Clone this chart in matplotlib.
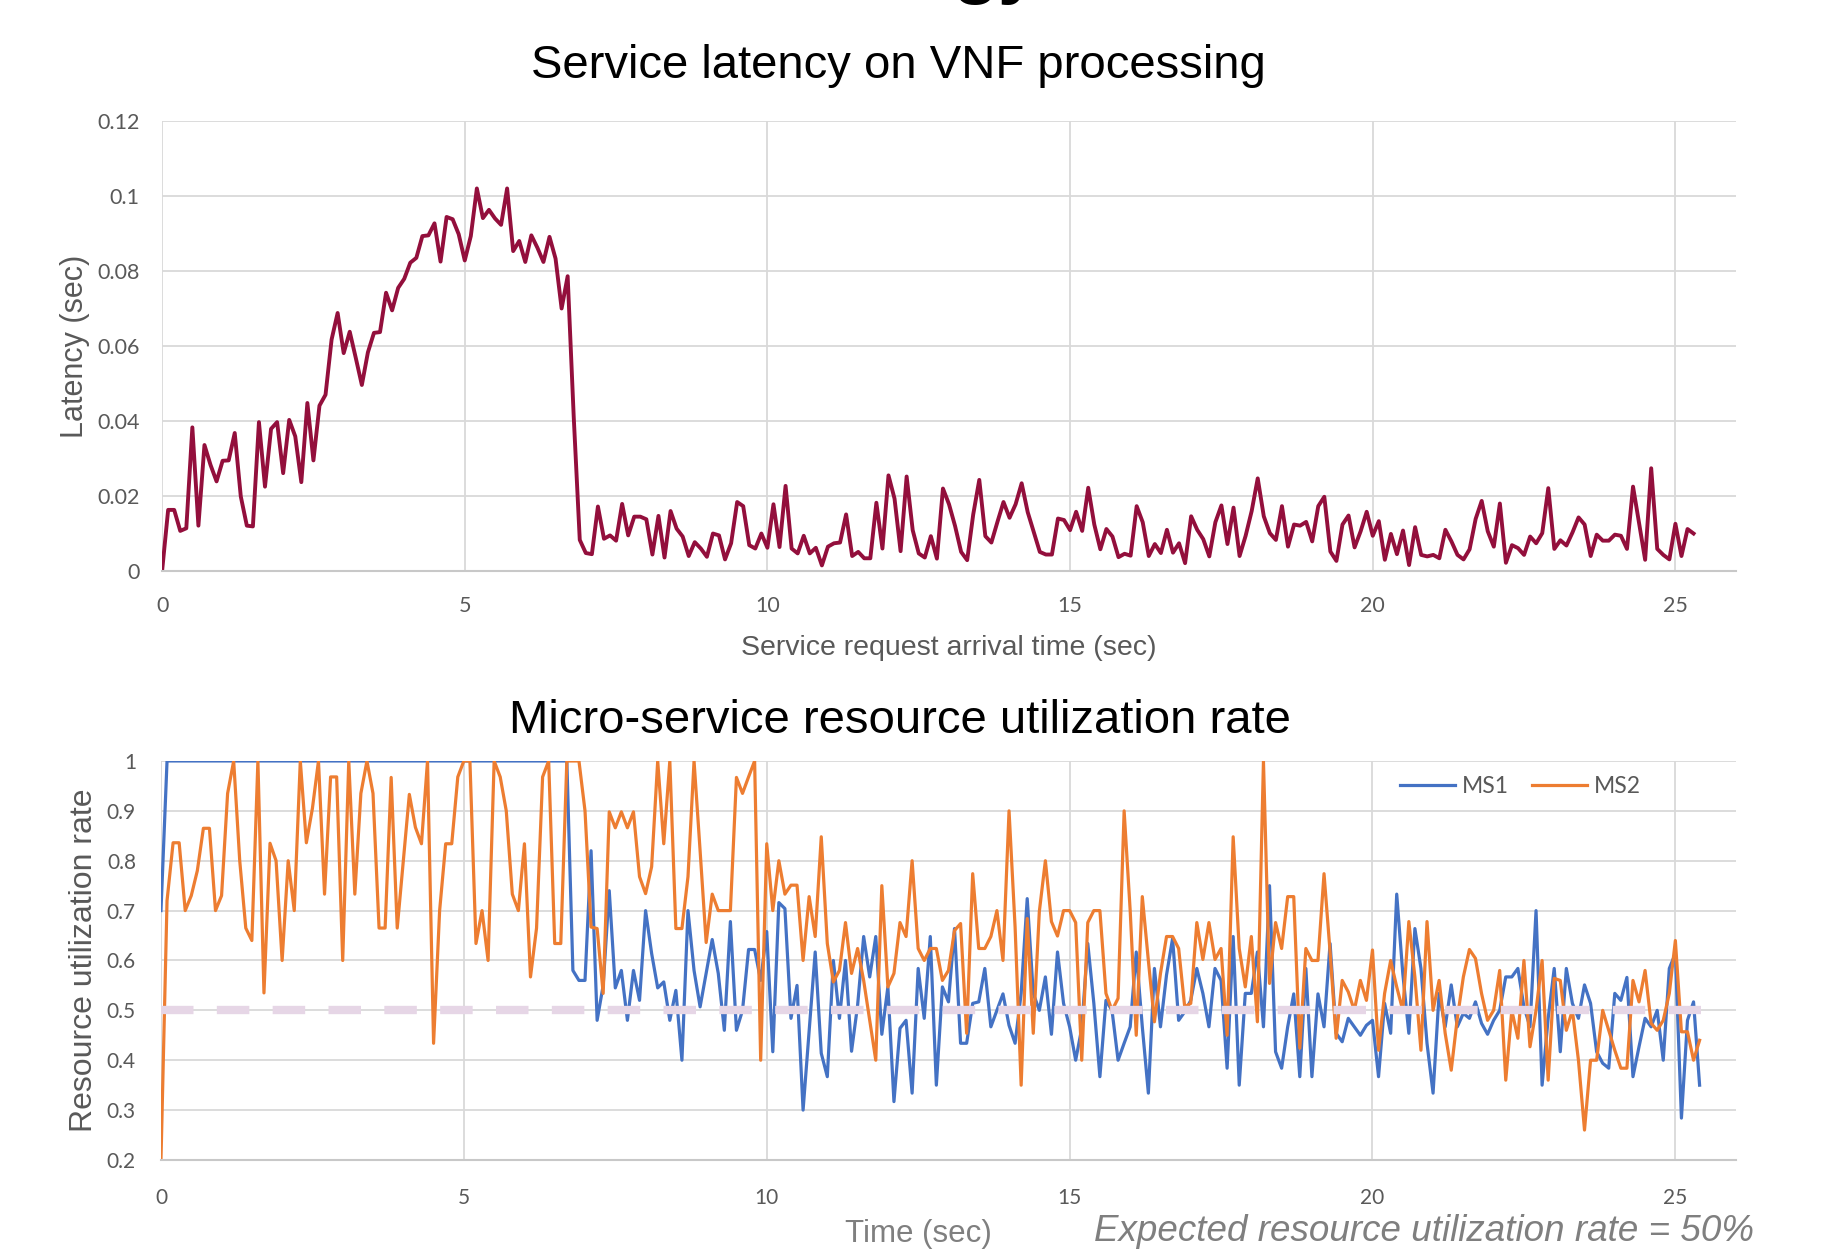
import numpy as np
import matplotlib
matplotlib.use("Agg")
import matplotlib.pyplot as plt
from matplotlib.ticker import FuncFormatter

latency = [
    0.0, 0.0163, 0.0163, 0.0107, 0.0114, 0.0383, 0.0121, 0.0336, 0.0283, 0.0239,
    0.0294, 0.0295, 0.0368, 0.0199, 0.0121, 0.0119, 0.0397, 0.0225, 0.0379, 0.0397,
    0.0261, 0.0403, 0.0359, 0.0237, 0.0448, 0.0295, 0.0441, 0.047, 0.0617, 0.0688,
    0.0581, 0.0638, 0.0568, 0.0496, 0.0583, 0.0635, 0.0637, 0.0742, 0.0695, 0.0755,
    0.0779, 0.0822, 0.0835, 0.0893, 0.0895, 0.0927, 0.0825, 0.0944, 0.0938, 0.0898,
    0.0828, 0.0893, 0.102, 0.0941, 0.0963, 0.094, 0.0923, 0.102, 0.0853, 0.088,
    0.0824, 0.0895, 0.0862, 0.0824, 0.0891, 0.0833, 0.070, 0.0786, 0.0412, 0.0083,
    0.0048, 0.0045, 0.0172, 0.0086, 0.0095, 0.0081, 0.0179, 0.0095, 0.0145, 0.0145,
    0.0138, 0.0044, 0.0147, 0.0036, 0.016, 0.0113, 0.0092, 0.004, 0.0077, 0.006,
    0.0038, 0.01, 0.0095, 0.0031, 0.0074, 0.0184, 0.0173, 0.0069, 0.006, 0.01,
    0.0062, 0.0178, 0.0064, 0.0227, 0.006, 0.0047, 0.0094, 0.0047, 0.0062, 0.0015,
    0.0065, 0.0074, 0.0076, 0.0151, 0.004, 0.0051, 0.0034, 0.0034, 0.0182, 0.006,
    0.0255, 0.0193, 0.0053, 0.0252, 0.0109, 0.0047, 0.0036, 0.0093, 0.0033, 0.022,
    0.0178, 0.012, 0.0051, 0.0029, 0.0151, 0.0243, 0.0093, 0.0076, 0.0131, 0.0184,
    0.0142, 0.0178, 0.0234, 0.0157, 0.0104, 0.0051, 0.0044, 0.0044, 0.014, 0.0136,
    0.0109, 0.0158, 0.0107, 0.0222, 0.0124, 0.0058, 0.0112, 0.0092, 0.0037, 0.0046,
    0.0041, 0.0173, 0.013, 0.004, 0.0072, 0.0048, 0.011, 0.0049, 0.0074, 0.0021,
    0.0146, 0.011, 0.0085, 0.0039, 0.013, 0.0175, 0.0072, 0.0169, 0.004, 0.0094,
    0.016, 0.0247, 0.0146, 0.0101, 0.0083, 0.0173, 0.0065, 0.0124, 0.0121, 0.0131,
    0.0079, 0.0173, 0.0198, 0.0052, 0.0027, 0.0124, 0.0148, 0.0063, 0.0106, 0.0158,
    0.0094, 0.0133, 0.003, 0.0099, 0.0045, 0.0108, 0.0016, 0.0117, 0.0043, 0.0039,
    0.0043, 0.0034, 0.011, 0.0079, 0.0043, 0.0031, 0.0058, 0.0139, 0.0187, 0.0106,
    0.0065, 0.018, 0.0022, 0.0069, 0.0061, 0.0043, 0.0092, 0.0074, 0.0101, 0.0221,
    0.0059, 0.0082, 0.0068, 0.0103, 0.0143, 0.0124, 0.004, 0.0097, 0.0081, 0.0081,
    0.0097, 0.0094, 0.0059, 0.0225, 0.0128, 0.003, 0.0274, 0.0059, 0.0043, 0.0031,
    0.0126, 0.004, 0.0112, 0.01,
]

# Micro-service utilization, sampled every 0.1 s
ms1 = [
    0.70, 1.0, 1.0, 1.0, 1.0, 1.0, 1.0, 1.0, 1.0, 1.0,
    1.0, 1.0, 1.0, 1.0, 1.0, 1.0, 1.0, 1.0, 1.0, 1.0,
    1.0, 1.0, 1.0, 1.0, 1.0, 1.0, 1.0, 1.0, 1.0, 1.0,
    1.0, 1.0, 1.0, 1.0, 1.0, 1.0, 1.0, 1.0, 1.0, 1.0,
    1.0, 1.0, 1.0, 1.0, 1.0, 1.0, 1.0, 1.0, 1.0, 1.0,
    1.0, 1.0, 1.0, 1.0, 1.0, 1.0, 1.0, 1.0, 1.0, 1.0,
    1.0, 1.0, 1.0, 1.0, 1.0, 1.0, 1.0, 1.0, 0.58, 0.56,
    0.56, 0.82, 0.48, 0.55, 0.74, 0.545, 0.58, 0.48, 0.58, 0.52,
    0.70, 0.614, 0.545, 0.557, 0.48, 0.54, 0.40, 0.70, 0.58, 0.507,
    0.574, 0.642, 0.574, 0.46, 0.678, 0.46, 0.50, 0.622, 0.622, 0.56,
    0.658, 0.417, 0.716, 0.704, 0.484, 0.55, 0.30, 0.459, 0.617, 0.414,
    0.367, 0.60, 0.484, 0.60, 0.418, 0.51, 0.648, 0.567, 0.648, 0.452,
    0.547, 0.317, 0.464, 0.48, 0.334, 0.584, 0.484, 0.648, 0.35, 0.547,
    0.517, 0.664, 0.434, 0.434, 0.514, 0.517, 0.584, 0.467, 0.50, 0.533,
    0.47, 0.434, 0.534, 0.724, 0.534, 0.50, 0.567, 0.452, 0.617, 0.514,
    0.467, 0.40, 0.464, 0.634, 0.514, 0.367, 0.52, 0.50, 0.40, 0.434,
    0.467, 0.617, 0.467, 0.334, 0.584, 0.467, 0.571, 0.644, 0.48, 0.497,
    0.52, 0.584, 0.534, 0.467, 0.584, 0.56, 0.384, 0.648, 0.35, 0.534,
    0.534, 0.617, 0.467, 0.75, 0.417, 0.384, 0.467, 0.533, 0.367, 0.584,
    0.367, 0.533, 0.467, 0.634, 0.454, 0.437, 0.484, 0.467, 0.45, 0.47,
    0.48, 0.367, 0.514, 0.454, 0.733, 0.574, 0.454, 0.664, 0.584, 0.434,
    0.334, 0.534, 0.467, 0.551, 0.467, 0.494, 0.484, 0.517, 0.474, 0.452,
    0.48, 0.50, 0.567, 0.567, 0.584, 0.507, 0.467, 0.70, 0.35, 0.484,
    0.584, 0.417, 0.584, 0.514, 0.484, 0.551, 0.514, 0.417, 0.394, 0.384,
    0.534, 0.52, 0.566, 0.367, 0.427, 0.484, 0.467, 0.50, 0.40, 0.584,
    0.614, 0.284, 0.48, 0.517, 0.35,
]

ms2 = [
    0.2, 0.72, 0.836, 0.836, 0.70, 0.73, 0.78, 0.865, 0.865, 0.70,
    0.73, 0.935, 1.0, 0.80, 0.665, 0.64, 1.0, 0.535, 0.835, 0.80,
    0.60, 0.80, 0.70, 1.0, 0.836, 0.905, 1.0, 0.733, 0.968, 0.968,
    0.60, 1.0, 0.733, 0.935, 1.0, 0.935, 0.665, 0.665, 0.967, 0.665,
    0.80, 0.933, 0.867, 0.834, 1.0, 0.434, 0.70, 0.834, 0.834, 0.968,
    1.0, 1.0, 0.634, 0.70, 0.60, 1.0, 0.968, 0.90, 0.733, 0.70,
    0.834, 0.567, 0.665, 0.968, 1.0, 0.634, 0.634, 1.0, 1.0, 1.0,
    0.90, 0.667, 0.664, 0.534, 0.898, 0.866, 0.898, 0.866, 0.898, 0.768,
    0.734, 0.788, 1.0, 0.834, 1.0, 0.664, 0.664, 0.768, 1.0, 0.82,
    0.636, 0.733, 0.70, 0.70, 0.70, 0.967, 0.935, 0.968, 1.0, 0.40,
    0.834, 0.70, 0.80, 0.733, 0.751, 0.751, 0.60, 0.728, 0.648, 0.848,
    0.634, 0.557, 0.58, 0.676, 0.574, 0.624, 0.56, 0.48, 0.40, 0.75,
    0.547, 0.574, 0.676, 0.648, 0.80, 0.624, 0.60, 0.624, 0.624, 0.56,
    0.58, 0.66, 0.674, 0.454, 0.774, 0.624, 0.624, 0.648, 0.70, 0.60,
    0.90, 0.667, 0.35, 0.684, 0.454, 0.698, 0.80, 0.678, 0.649, 0.70,
    0.70, 0.676, 0.40, 0.676, 0.70, 0.70, 0.534, 0.50, 0.524, 0.90,
    0.70, 0.45, 0.728, 0.60, 0.477, 0.574, 0.648, 0.648, 0.624, 0.507,
    0.514, 0.676, 0.602, 0.676, 0.602, 0.624, 0.45, 0.848, 0.624, 0.547,
    0.648, 0.477, 1.0, 0.554, 0.676, 0.624, 0.728, 0.728, 0.424, 0.624,
    0.60, 0.60, 0.774, 0.617, 0.444, 0.56, 0.537, 0.50, 0.56, 0.52,
    0.621, 0.42, 0.534, 0.60, 0.547, 0.50, 0.678, 0.567, 0.42, 0.678,
    0.50, 0.56, 0.454, 0.38, 0.484, 0.567, 0.622, 0.604, 0.534, 0.48,
    0.50, 0.58, 0.36, 0.50, 0.444, 0.60, 0.427, 0.50, 0.60, 0.36,
    0.564, 0.56, 0.46, 0.50, 0.40, 0.26, 0.40, 0.40, 0.50, 0.46,
    0.42, 0.384, 0.384, 0.56, 0.517, 0.58, 0.474, 0.46, 0.48, 0.534,
    0.64, 0.457, 0.457, 0.40, 0.44,
]

expected_rate = 0.5
sample_step = 0.1  # seconds between samples

latency_ticks = [0, 0.02, 0.04, 0.06, 0.08, 0.1, 0.12]
util_ticks = [0.2, 0.3, 0.4, 0.5, 0.6, 0.7, 0.8, 0.9, 1.0]
time_ticks = [0, 5, 10, 15, 20, 25]

t_lat = np.arange(len(latency)) * sample_step
t_ms = np.arange(len(ms1)) * sample_step

GRID = "#D9D9D9"
TICK = "#595959"
fmt = FuncFormatter(lambda v, _: f"{v:g}")


def style_axes(ax, size):
    for side in ["top", "right", "left"]:
        ax.spines[side].set_visible(False)
    ax.spines["bottom"].set_color("#C8C8C8")
    ax.spines["bottom"].set_linewidth(1.5)
    ax.grid(True, color=GRID, linewidth=1.3)
    ax.set_axisbelow(True)
    ax.tick_params(length=0, labelcolor=TICK, labelsize=size)
    for lbl in ax.get_xticklabels() + ax.get_yticklabels():
        lbl.set_family("Lato")
    ax.yaxis.set_major_formatter(fmt)


fig = plt.figure(figsize=(18.44, 12.52), dpi=100)

# 1. Latency panel
ax1 = fig.add_axes([0.0879, 0.5439, 0.8535, 0.3595])
ax1.plot(t_lat, latency, color="#930F3C", linewidth=2.8)
ax1.set_xlim(0, 26)
ax1.set_ylim(0, 0.12)
ax1.set_xticks(time_ticks)
ax1.set_yticks(latency_ticks)
style_axes(ax1, 15.5)
ax1.tick_params(axis="x", pad=18)
ax1.tick_params(axis="y", pad=16)
ax1.set_xlabel("Service request arrival time (sec)", fontsize=20.5,
               color=TICK, family="Liberation Sans", labelpad=14)
ax1.set_ylabel("Latency (sec)", fontsize=22, color=TICK,
               family="Liberation Sans", labelpad=5)
fig.text(0.487, 0.947, "Service latency on VNF processing", fontsize=34,
         family="Liberation Sans", ha="center", va="center")

# 2. Utilization panel
ax2 = fig.add_axes([0.0873, 0.0735, 0.8541, 0.3187])
ax2.plot(t_ms, ms1, color="#4472C4", linewidth=2.3, label="MS1")
ax2.plot(t_ms, ms2, color="#ED7D31", linewidth=2.3, label="MS2")
ax2.hlines(expected_rate, 0, t_ms[-1] + sample_step, colors="#E6D6E6",
           linewidth=6, linestyles=(0, (3.9, 2.8)), zorder=5)
ax2.set_xlim(0, 26)
ax2.set_ylim(0.2, 1.0)
ax2.set_xticks(time_ticks)
ax2.set_yticks(util_ticks)
style_axes(ax2, 15)
ax2.tick_params(axis="x", pad=20)
ax2.tick_params(axis="y", pad=18)
ax2.set_ylabel("Resource utilization rate", fontsize=23, color=TICK,
               family="Liberation Sans", labelpad=6)
leg = ax2.legend(loc="center", bbox_to_anchor=(0.863, 0.935), ncol=2,
                 frameon=False, handlelength=2.4, columnspacing=1.0,
                 handletextpad=0.3, prop={"family": "Lato", "size": 16.5})
for txt in leg.get_texts():
    txt.set_color(TICK)
fig.text(0.488, 0.424, "Micro-service resource utilization rate", fontsize=34,
         family="Liberation Sans", ha="center", va="center")

# captions along the bottom edge of the slide
fig.text(0.498, 0.002, "Time (sec)", fontsize=22.5, color="#7F7F7F",
         family="Liberation Sans", ha="center", va="bottom")
fig.text(0.772, 0.002, "Expected resource utilization rate = 50%", fontsize=26.5,
         color="#7F7F7F", style="italic", family="Liberation Sans",
         ha="center", va="bottom")

# bottom of the slide heading, mostly outside the crop
fig.text(0.517, 1.008, "gy", fontsize=54, fontweight="bold",
         family="Liberation Sans", ha="left", va="baseline")

fig.savefig("out.png", dpi=100)
